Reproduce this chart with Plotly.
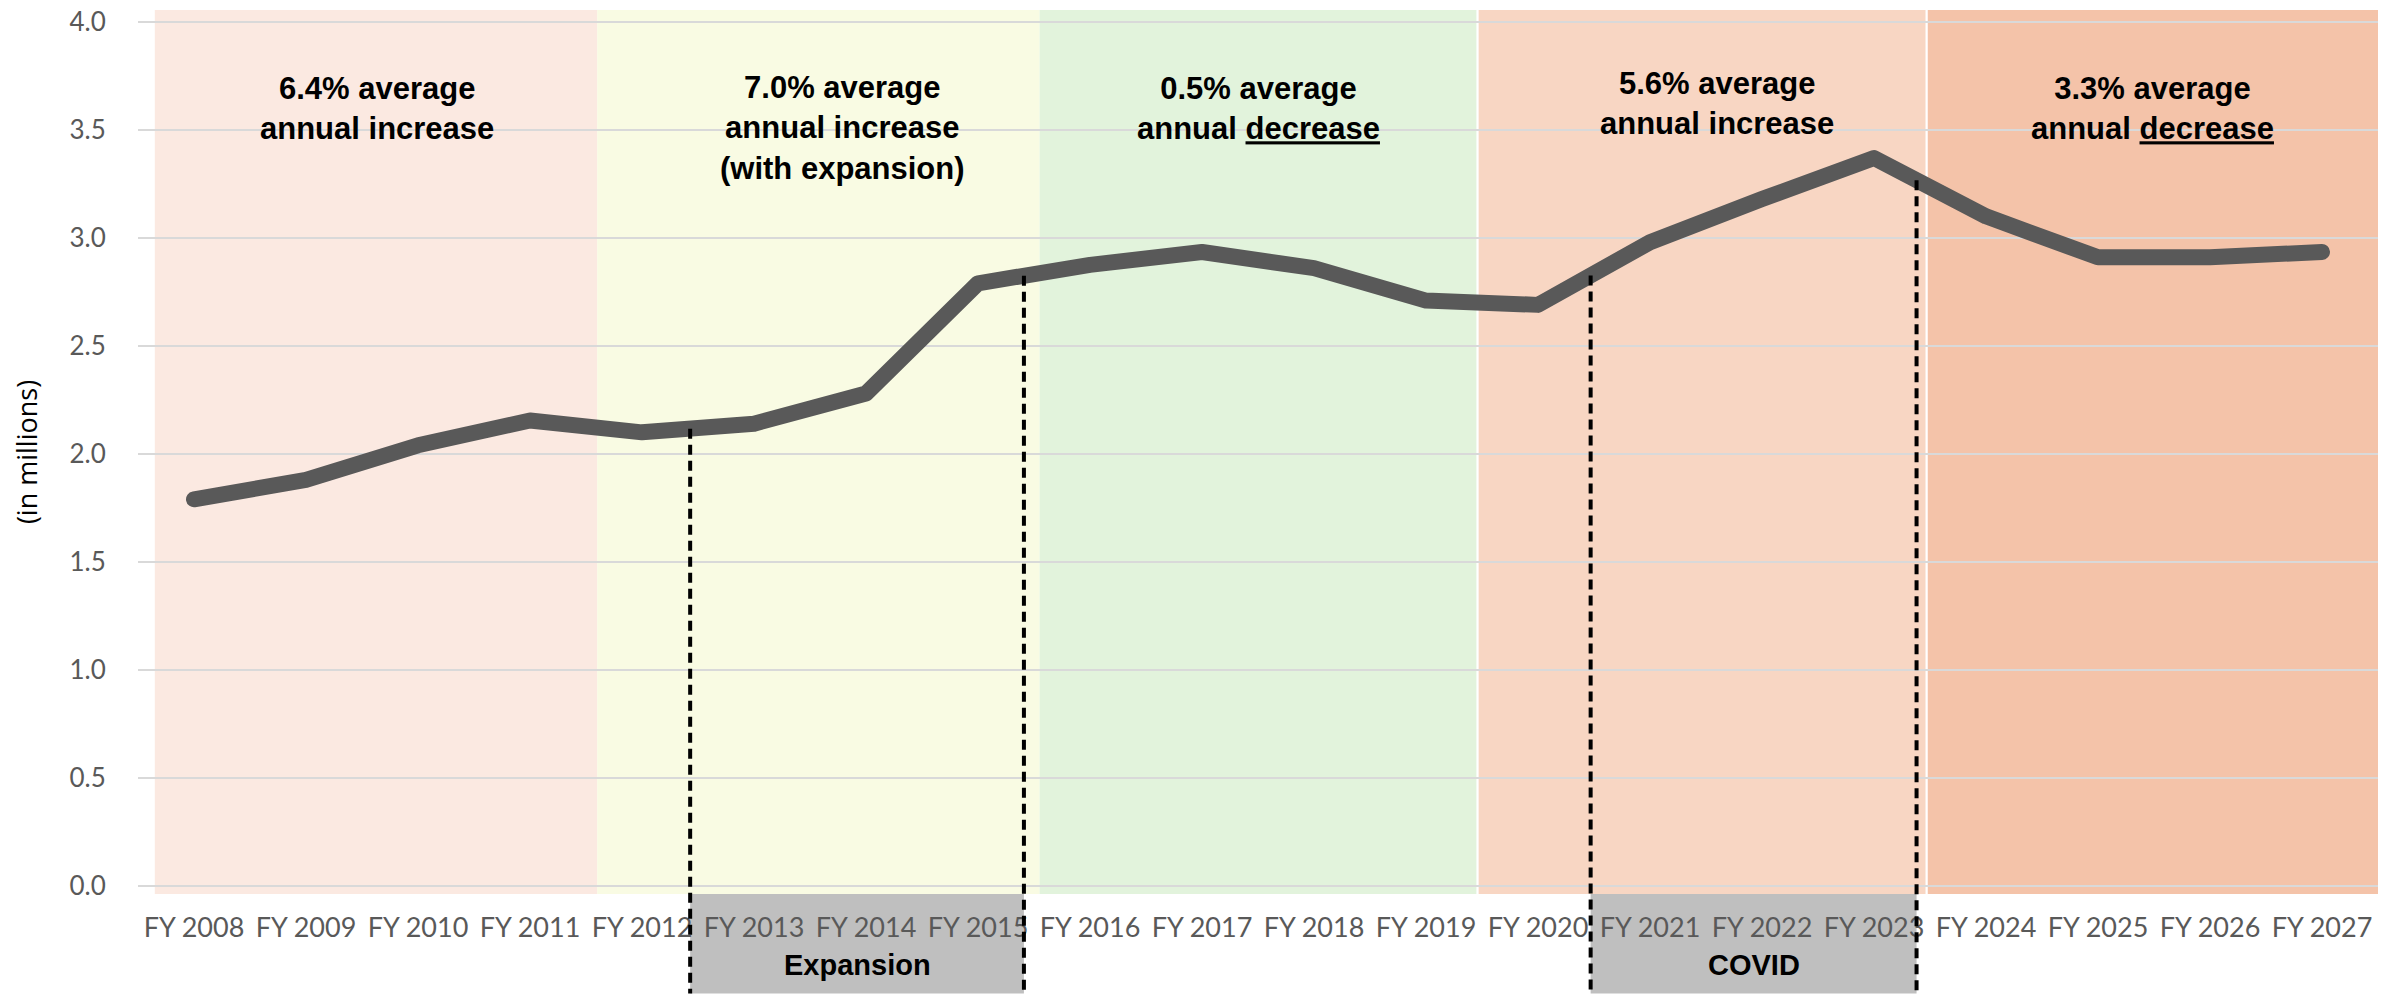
import numpy as np
import plotly.graph_objects as go

# ---------------- data ----------------
categories = ["FY 2008", "FY 2009", "FY 2010", "FY 2011", "FY 2012", "FY 2013", "FY 2014",
              "FY 2015", "FY 2016", "FY 2017", "FY 2018", "FY 2019", "FY 2020", "FY 2021",
              "FY 2022", "FY 2023", "FY 2024", "FY 2025", "FY 2026", "FY 2027"]
values = [1.79, 1.88, 2.04, 2.155, 2.10, 2.14, 2.28, 2.79, 2.875, 2.935,
          2.86, 2.71, 2.69, 2.98, 3.18, 3.37, 3.10, 2.91, 2.91, 2.935]

period_labels = ["6.4% average<br>annual increase",
                 "7.0% average<br>annual increase<br>(with expansion)",
                 "0.5% average<br>annual <u>decrease</u>",
                 "5.6% average<br>annual increase",
                 "3.3% average<br>annual <u>decrease</u>"]
event_labels = ["Expansion", "COVID"]

y_ticks = [0.0, 0.5, 1.0, 1.5, 2.0, 2.5, 3.0, 3.5, 4.0]

# ---------------- layout helpers (positions / styles) ----------------
band_x0 = [-0.35, 3.60, 7.55, 11.47, 15.48]
band_x1 = [3.60, 7.55, 11.45, 15.46, 19.50]
band_colors = ["#FBE9E1", "#F9FBE3", "#E2F3DC", "#F8D6C3", "#F4C3A9"]
label_x = [1.63, 5.79, 9.50, 13.60, 17.49]
label_y = [3.60, 3.51, 3.60, 3.62, 3.60]

event_x0 = [4.43, 12.47]
event_x1 = [7.41, 15.38]

Y_MIN, Y_MAX = -0.037, 4.055
W, H = 2399, 994
M_T, M_B, M_L, M_R = 5, 100, 138, 21
plot_h = H - M_T - M_B
paper_bottom = -(M_B) / plot_h


def to_paper(v):
    return (v - Y_MIN) / (Y_MAX - Y_MIN)


fig = go.Figure()

fig.add_trace(go.Scatter(
    x=list(range(len(categories))), y=values, mode="lines",
    line=dict(color="#595959", width=16), hoverinfo="skip", showlegend=False))

shapes = []
for x0, x1, c in zip(band_x0, band_x1, band_colors):
    shapes.append(dict(type="rect", xref="x", yref="paper", x0=x0, x1=x1, y0=0, y1=1,
                       fillcolor=c, line=dict(width=0), layer="below"))

for x0, x1 in zip(event_x0, event_x1):
    shapes.append(dict(type="rect", xref="x", yref="paper", x0=x0, x1=x1,
                       y0=paper_bottom, y1=0, fillcolor="#BFBFBF",
                       line=dict(width=0), layer="below"))
    for xx in (x0, x1):
        top = float(np.interp(xx, np.arange(len(values)), values))
        shapes.append(dict(type="line", xref="x", yref="paper", x0=xx, x1=xx,
                           y0=to_paper(top), y1=paper_bottom,
                           line=dict(color="black", width=4, dash="10px,6px"),
                           layer="above"))

annotations = []
for txt, lx, ly in zip(period_labels, label_x, label_y):
    annotations.append(dict(x=lx, y=ly, xref="x", yref="y", text="<b>" + txt + "</b>",
                            showarrow=False, xanchor="center", yanchor="middle",
                            font=dict(family="Liberation Sans, Arial", size=31, color="black")))

for lab, x0, x1 in zip(event_labels, event_x0, event_x1):
    annotations.append(dict(x=(x0 + x1) / 2, y=-0.08, xref="x", yref="paper",
                            text="<b>" + lab + "</b>", showarrow=False,
                            xanchor="center", yanchor="middle",
                            font=dict(family="Liberation Sans, Arial", size=29, color="black")))

fig.update_layout(
    width=W, height=H,
    margin=dict(t=M_T, b=M_B, l=M_L, r=M_R, pad=0),
    paper_bgcolor="white", plot_bgcolor="white",
    shapes=shapes, annotations=annotations,
    showlegend=False,
    xaxis=dict(
        range=[-0.5, len(categories) - 0.5],
        tickmode="array", tickvals=list(range(len(categories))), ticktext=categories,
        tickfont=dict(family="Lato", size=27, color="#595959"),
        showgrid=False, zeroline=False, showline=False,
        ticks="outside", ticklen=10, tickcolor="rgba(0,0,0,0)",
        fixedrange=True),
    yaxis=dict(
        range=[Y_MIN, Y_MAX],
        tickmode="array", tickvals=y_ticks, ticktext=[f"{v:.1f}" for v in y_ticks],
        tickfont=dict(family="Lato", size=26, color="#595959"),
        showgrid=True, gridcolor="#D9D9D9", gridwidth=2,
        zeroline=False, showline=False,
        ticks="outside", ticklen=26, tickcolor="rgba(0,0,0,0)",
        title=dict(text="(in millions)", standoff=24,
                   font=dict(family="Open Sans", size=27, color="black")),
        fixedrange=True),
)

post = ("document.body.style.margin='0';document.body.style.overflow='hidden';"
        "document.querySelectorAll('.scatterlayer path.js-line').forEach(function(p){"
        "p.style.strokeLinecap='round';p.style.strokeLinejoin='round';});")
fig.write_html("out.html", config={"displayModeBar": False}, post_script=post)
